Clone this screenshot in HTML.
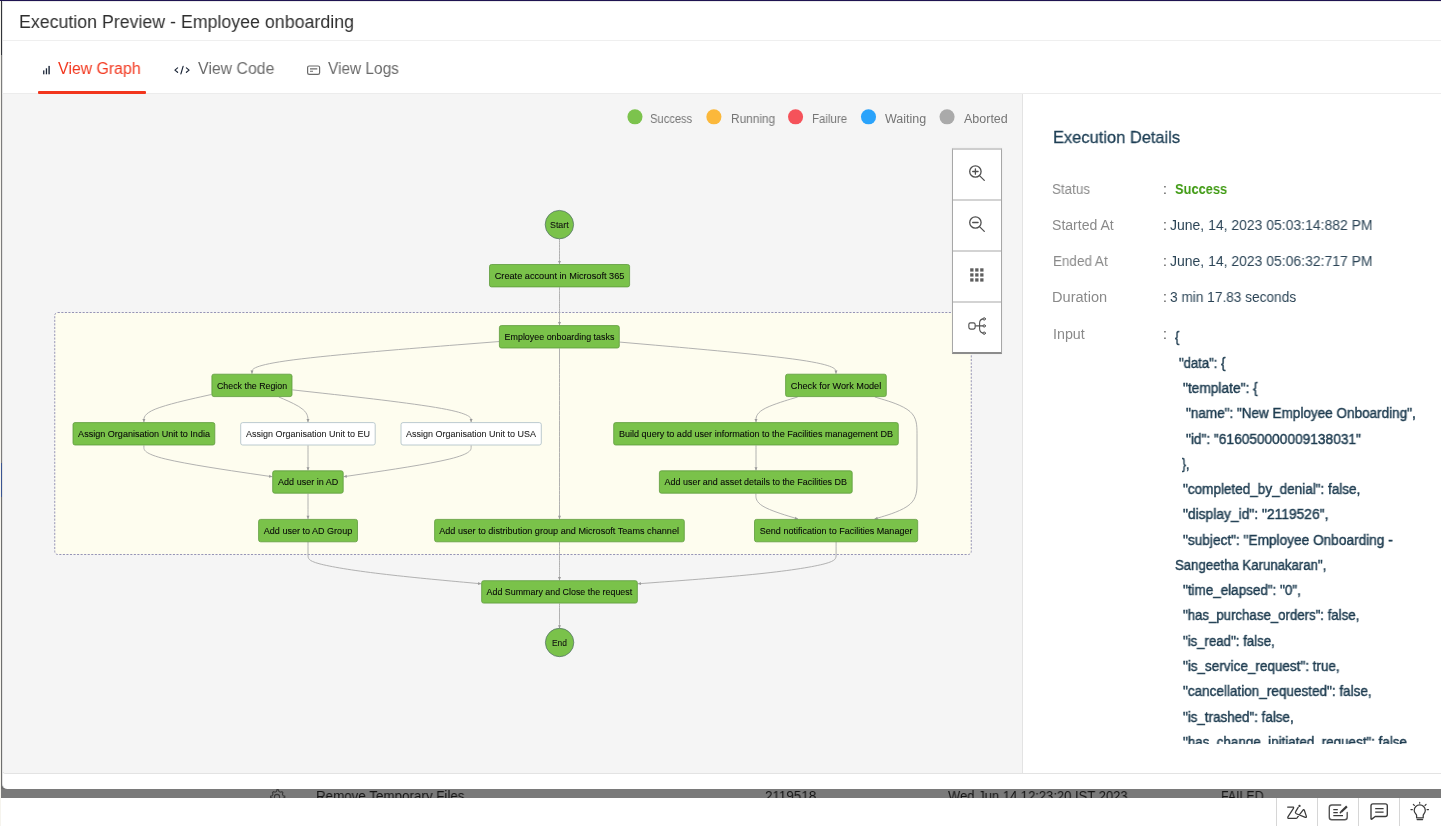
<!DOCTYPE html>
<html><head><meta charset="utf-8"><title>Execution Preview - Employee onboarding</title>
<style>
*{box-sizing:border-box}
html,body{margin:0;padding:0}
body{width:1441px;height:826px;position:relative;overflow:hidden;background:#fff;font-family:"Liberation Sans",sans-serif}
.abs{position:absolute}
.tx{position:absolute;white-space:pre;transform-origin:0 0;display:inline-block;will-change:transform}
.gsvg{position:absolute;left:0;top:0;will-change:transform}
.gsvg text{font-family:"Liberation Sans",sans-serif}
</style></head><body>

<div class="abs" style="left:0;top:0;width:1px;height:826px;background:#f6f4ee"></div>
<div class="abs" style="left:0;top:0;width:1441px;height:1px;background:#1f1452"></div>
<div class="abs" style="left:1px;top:1px;width:1440px;height:788px;background:#6e6e6e"></div>
<div class="abs" style="left:1px;top:1px;width:1px;height:54px;background:#31343a"></div>
<div class="abs" style="left:1px;top:55px;width:1px;height:408px;background:#7c7c7c"></div>
<div class="abs" style="left:1px;top:463px;width:1px;height:34px;background:#3a5592"></div>
<div class="abs" style="left:1px;top:497px;width:1px;height:292px;background:#6e6e6e"></div>
<div class="abs" style="left:2px;top:1px;width:1439px;height:788px;background:#fff;border-radius:0 0 0 5px;border-left:1px solid #e4e4e4;border-top:1px solid #ebebeb"></div>
<div class="abs" style="left:3px;top:40px;width:1438px;height:1px;background:#efefef"></div>
<div class="abs" style="left:2px;top:93px;width:1439px;height:681px;background:#fff;border:1px solid #e3e3e3;border-right:none;border-top-color:#ececec;border-radius:0 0 0 4px;overflow:hidden"><div class="abs" style="left:0;top:0;width:1019px;height:679px;background:#f5f5f5"></div><div class="abs" style="left:1019px;top:0;width:1px;height:679px;background:#e3e3e3"></div></div>
<div class="abs" style="left:38px;top:91px;width:108px;height:2.5px;background:#f2361d;border-radius:1px"></div>
<svg class="abs" style="left:600px;top:100px" width="400" height="30" viewBox="600 100 400 30">
<circle cx="634.95" cy="116.8" r="7.55" fill="#7cc34d"/>
<circle cx="713.90" cy="116.8" r="7.55" fill="#fbb83b"/>
<circle cx="795.55" cy="116.8" r="7.55" fill="#f5525a"/>
<circle cx="868.50" cy="116.8" r="7.55" fill="#2aa3fb"/>
<circle cx="947.05" cy="116.8" r="7.55" fill="#aaaaaa"/>
</svg>
<svg class="gsvg" width="1441" height="826" viewBox="0 0 1441 826">
<rect x="54.75" y="312.5" width="916.5" height="242" rx="3" fill="#fefdef" stroke="#9694b6" stroke-width="1" stroke-dasharray="2.1 1.45"/>
<path d="M559.50,238.90 L559.50,240.75 C559.50,242.60 559.50,246.30 559.50,250.50 C559.50,254.70 559.50,259.40 559.50,261.75 L559.50,264.10" fill="none" stroke="#a9a9a9" stroke-width="0.9"/>
<path d="M559.50,287.30 L559.50,290.42 C559.50,293.53 559.50,299.77 559.50,306.08 C559.50,312.40 559.50,318.80 559.50,322.00 L559.50,325.20" fill="none" stroke="#a9a9a9" stroke-width="0.9"/>
<path d="M499.00,341.55 L457.83,344.79 C416.67,348.03 334.33,354.52 293.16,359.89 C251.99,365.27 251.98,369.53 251.98,371.67 L251.97,373.80" fill="none" stroke="#a9a9a9" stroke-width="0.9"/>
<path d="M619.70,342.08 L655.75,345.23 C691.80,348.39 763.90,354.69 799.95,359.98 C835.99,365.27 835.98,369.53 835.98,371.67 L835.97,373.80" fill="none" stroke="#a9a9a9" stroke-width="0.9"/>
<path d="M559.50,348.40 L559.50,362.00 C559.50,375.60 559.50,402.80 559.50,431.23 C559.50,459.67 559.50,489.33 559.50,504.17 L559.50,519.00" fill="none" stroke="#a9a9a9" stroke-width="0.9"/>
<path d="M211.50,394.46 L200.23,396.98 C188.97,399.51 166.43,404.55 155.17,409.18 C143.90,413.80 143.90,418.00 143.90,420.10 L143.90,422.20" fill="none" stroke="#a9a9a9" stroke-width="0.9"/>
<path d="M278.82,397.00 L283.68,399.10 C288.54,401.20 298.27,405.40 303.13,409.60 C307.99,413.80 307.98,418.00 307.98,420.10 L307.97,422.20" fill="none" stroke="#a9a9a9" stroke-width="0.9"/>
<path d="M292.40,389.87 L322.18,393.16 C351.97,396.44 411.53,403.02 441.32,408.41 C471.11,413.80 471.12,418.00 471.12,420.10 L471.13,422.20" fill="none" stroke="#a9a9a9" stroke-width="0.9"/>
<path d="M143.90,445.40 L143.90,447.48 C143.90,449.57 143.90,453.73 165.30,458.96 C186.70,464.19 229.50,470.48 250.90,473.62 L272.30,476.76" fill="none" stroke="#a9a9a9" stroke-width="0.9"/>
<path d="M308.00,445.40 L308.00,447.50 C308.00,449.60 308.00,453.80 308.00,457.97 C308.00,462.13 308.00,466.27 308.00,468.33 L308.00,470.40" fill="none" stroke="#a9a9a9" stroke-width="0.9"/>
<path d="M471.13,445.40 L471.12,447.48 C471.12,449.57 471.11,453.73 449.85,458.96 C428.60,464.18 386.10,470.46 364.85,473.59 L343.60,476.73" fill="none" stroke="#a9a9a9" stroke-width="0.9"/>
<path d="M308.00,493.60 L308.00,495.67 C308.00,497.73 308.00,501.87 308.00,506.10 C308.00,510.33 308.00,514.67 308.00,516.83 L308.00,519.00" fill="none" stroke="#a9a9a9" stroke-width="0.9"/>
<path d="M797.63,397.00 L790.69,399.10 C783.75,401.20 769.88,405.40 762.94,409.60 C756.00,413.80 756.00,418.00 756.00,420.10 L756.00,422.20" fill="none" stroke="#a9a9a9" stroke-width="0.9"/>
<path d="M874.80,397.00 L881.83,399.10 C888.87,401.20 902.93,405.40 909.97,411.53 C917.00,417.67 917.00,425.73 917.00,433.78 C917.00,441.83 917.00,449.87 917.00,457.90 C917.00,465.93 917.00,473.97 917.00,482.02 C917.00,490.07 917.00,498.13 909.93,504.30 C902.85,510.47 888.71,514.73 881.63,516.87 L874.56,519.00" fill="none" stroke="#a9a9a9" stroke-width="0.9"/>
<path d="M756.00,445.40 L756.00,447.50 C756.00,449.60 756.00,453.80 756.00,457.97 C756.00,462.13 756.00,466.27 756.00,468.33 L756.00,470.40" fill="none" stroke="#a9a9a9" stroke-width="0.9"/>
<path d="M755.90,493.60 L755.91,495.70 C755.93,497.80 755.97,502.00 762.99,506.23 C770.01,510.47 784.01,514.73 791.02,516.87 L798.02,519.00" fill="none" stroke="#a9a9a9" stroke-width="0.9"/>
<path d="M308.00,541.60 L308.00,544.00 C308.00,546.40 308.00,551.20 308.00,554.77 C308.00,558.33 308.00,560.67 319.00,563.67 C330.00,566.67 352.00,570.33 380.88,573.80 C409.75,577.27 445.50,580.53 463.38,582.17 L481.25,583.80" fill="none" stroke="#a9a9a9" stroke-width="0.9"/>
<path d="M559.50,542.20 L559.50,545.17 C559.50,548.13 559.50,554.07 559.50,560.42 C559.50,566.77 559.50,573.53 559.50,576.92 L559.50,580.30" fill="none" stroke="#a9a9a9" stroke-width="0.9"/>
<path d="M836.10,541.60 L836.10,544.00 C836.10,546.40 836.10,551.20 836.10,554.77 C836.10,558.33 836.10,560.67 825.10,563.67 C814.10,566.67 792.10,570.33 759.04,573.80 C725.98,577.27 681.87,580.53 659.81,582.17 L637.75,583.80" fill="none" stroke="#a9a9a9" stroke-width="0.9"/>
<path d="M559.50,603.50 L559.50,605.58 C559.50,607.67 559.50,611.83 559.50,616.00 C559.50,620.17 559.50,624.33 559.50,626.42 L559.50,628.50" fill="none" stroke="#a9a9a9" stroke-width="0.9"/>
<path d="M559.50,264.10 L558.00,260.90 L561.00,260.90 Z" fill="#9a9a9a"/>
<path d="M559.50,325.20 L558.00,322.00 L561.00,322.00 Z" fill="#9a9a9a"/>
<path d="M251.97,373.80 L250.48,370.60 L253.48,370.60 Z" fill="#9a9a9a"/>
<path d="M835.97,373.80 L834.48,370.60 L837.48,370.60 Z" fill="#9a9a9a"/>
<path d="M559.50,519.00 L558.00,515.80 L561.00,515.80 Z" fill="#9a9a9a"/>
<path d="M143.90,422.20 L142.40,419.00 L145.40,419.00 Z" fill="#9a9a9a"/>
<path d="M307.97,422.20 L306.48,419.00 L309.48,419.00 Z" fill="#9a9a9a"/>
<path d="M471.13,422.20 L469.62,419.00 L472.62,419.00 Z" fill="#9a9a9a"/>
<path d="M272.30,476.76 L268.92,477.78 L269.35,474.81 Z" fill="#9a9a9a"/>
<path d="M308.00,470.40 L306.50,467.20 L309.50,467.20 Z" fill="#9a9a9a"/>
<path d="M343.60,476.73 L346.55,474.78 L346.98,477.75 Z" fill="#9a9a9a"/>
<path d="M308.00,519.00 L306.50,515.80 L309.50,515.80 Z" fill="#9a9a9a"/>
<path d="M756.00,422.20 L754.50,419.00 L757.50,419.00 Z" fill="#9a9a9a"/>
<path d="M874.56,519.00 L877.19,516.64 L878.06,519.51 Z" fill="#9a9a9a"/>
<path d="M756.00,470.40 L754.50,467.20 L757.50,467.20 Z" fill="#9a9a9a"/>
<path d="M798.02,519.00 L794.52,519.50 L795.40,516.63 Z" fill="#9a9a9a"/>
<path d="M481.25,583.80 L477.93,585.00 L478.20,582.02 Z" fill="#9a9a9a"/>
<path d="M559.50,580.30 L558.00,577.10 L561.00,577.10 Z" fill="#9a9a9a"/>
<path d="M637.75,583.80 L640.83,582.07 L641.05,585.06 Z" fill="#9a9a9a"/>
<path d="M559.50,628.50 L558.00,625.30 L561.00,625.30 Z" fill="#9a9a9a"/>
<circle cx="559.4" cy="224.6" r="14.2" fill="#7ac24a" stroke="#4d6a66" stroke-width="0.7"/>
<text x="550.0" y="227.90" font-size="9.6" textLength="18.7" lengthAdjust="spacingAndGlyphs" fill="#101010" stroke="#101010" stroke-width="0.08">Start</text>
<circle cx="559.6" cy="642.5" r="14.2" fill="#7ac24a" stroke="#4d6a66" stroke-width="0.7"/>
<text x="551.9" y="645.80" font-size="9.6" textLength="15.0" lengthAdjust="spacingAndGlyphs" fill="#101010" stroke="#101010" stroke-width="0.08">End</text>
<rect x="489.50" y="264.50" width="140.10" height="22.40" rx="2" fill="#7ac24a" stroke="#5e9a3c" stroke-width="0.8"/>
<text x="494.70" y="278.80" font-size="9.8" textLength="129.70" lengthAdjust="spacingAndGlyphs" fill="#080808" stroke="#080808" stroke-width="0.08">Create account in Microsoft 365</text>
<rect x="499.40" y="325.60" width="119.90" height="22.40" rx="2" fill="#7ac24a" stroke="#5e9a3c" stroke-width="0.8"/>
<text x="504.60" y="339.90" font-size="9.8" textLength="109.80" lengthAdjust="spacingAndGlyphs" fill="#080808" stroke="#080808" stroke-width="0.08">Employee onboarding tasks</text>
<rect x="211.90" y="374.20" width="80.10" height="22.40" rx="2" fill="#7ac24a" stroke="#5e9a3c" stroke-width="0.8"/>
<text x="217.00" y="388.50" font-size="9.8" textLength="70.10" lengthAdjust="spacingAndGlyphs" fill="#080808" stroke="#080808" stroke-width="0.08">Check the Region</text>
<rect x="785.60" y="374.20" width="100.70" height="22.40" rx="2" fill="#7ac24a" stroke="#5e9a3c" stroke-width="0.8"/>
<text x="790.80" y="388.50" font-size="9.8" textLength="90.40" lengthAdjust="spacingAndGlyphs" fill="#080808" stroke="#080808" stroke-width="0.08">Check for Work Model</text>
<rect x="73.00" y="422.60" width="141.80" height="22.40" rx="2" fill="#7ac24a" stroke="#5e9a3c" stroke-width="0.8"/>
<text x="78.10" y="436.90" font-size="9.8" textLength="131.90" lengthAdjust="spacingAndGlyphs" fill="#080808" stroke="#080808" stroke-width="0.08">Assign Organisation Unit to India</text>
<rect x="240.70" y="422.60" width="134.50" height="22.40" rx="2" fill="#ffffff" stroke="#a9bcc4" stroke-width="0.8"/>
<text x="246.10" y="436.90" font-size="9.8" textLength="123.90" lengthAdjust="spacingAndGlyphs" fill="#222222" stroke="#222222" stroke-width="0.08">Assign Organisation Unit to EU</text>
<rect x="401.00" y="422.60" width="140.30" height="22.40" rx="2" fill="#ffffff" stroke="#a9bcc4" stroke-width="0.8"/>
<text x="406.10" y="436.90" font-size="9.8" textLength="130.00" lengthAdjust="spacingAndGlyphs" fill="#222222" stroke="#222222" stroke-width="0.08">Assign Organisation Unit to USA</text>
<rect x="613.70" y="422.60" width="284.60" height="22.40" rx="2" fill="#7ac24a" stroke="#5e9a3c" stroke-width="0.8"/>
<text x="618.90" y="436.90" font-size="9.8" textLength="274.10" lengthAdjust="spacingAndGlyphs" fill="#080808" stroke="#080808" stroke-width="0.08">Build query to add user information to the Facilities management DB</text>
<rect x="272.70" y="470.80" width="70.50" height="22.40" rx="2" fill="#7ac24a" stroke="#5e9a3c" stroke-width="0.8"/>
<text x="278.10" y="485.10" font-size="9.8" textLength="60.10" lengthAdjust="spacingAndGlyphs" fill="#080808" stroke="#080808" stroke-width="0.08">Add user in AD</text>
<rect x="659.40" y="470.80" width="192.80" height="22.40" rx="2" fill="#7ac24a" stroke="#5e9a3c" stroke-width="0.8"/>
<text x="664.60" y="485.10" font-size="9.8" textLength="182.40" lengthAdjust="spacingAndGlyphs" fill="#080808" stroke="#080808" stroke-width="0.08">Add user and asset details to the Facilities DB</text>
<rect x="258.60" y="519.40" width="98.90" height="22.40" rx="2" fill="#7ac24a" stroke="#5e9a3c" stroke-width="0.8"/>
<text x="263.80" y="533.70" font-size="9.8" textLength="88.40" lengthAdjust="spacingAndGlyphs" fill="#080808" stroke="#080808" stroke-width="0.08">Add user to AD Group</text>
<rect x="434.60" y="519.40" width="249.70" height="22.40" rx="2" fill="#7ac24a" stroke="#5e9a3c" stroke-width="0.8"/>
<text x="439.20" y="533.70" font-size="9.8" textLength="239.80" lengthAdjust="spacingAndGlyphs" fill="#080808" stroke="#080808" stroke-width="0.08">Add user to distribution group and Microsoft Teams channel</text>
<rect x="754.50" y="519.40" width="163.20" height="22.40" rx="2" fill="#7ac24a" stroke="#5e9a3c" stroke-width="0.8"/>
<text x="759.80" y="533.70" font-size="9.8" textLength="152.70" lengthAdjust="spacingAndGlyphs" fill="#080808" stroke="#080808" stroke-width="0.08">Send notification to Facilities Manager</text>
<rect x="481.65" y="580.70" width="155.70" height="22.40" rx="2" fill="#7ac24a" stroke="#5e9a3c" stroke-width="0.8"/>
<text x="486.60" y="595.00" font-size="9.8" textLength="145.60" lengthAdjust="spacingAndGlyphs" fill="#080808" stroke="#080808" stroke-width="0.08">Add Summary and Close the request</text>
</svg>
<div class="abs" style="left:952px;top:148px;width:50px;height:206px;background:#fff;border:1px solid #a7a7a7;border-top:2px solid #cecece;border-bottom:2px solid #8c8c8c;box-shadow:0 0 2px rgba(0,0,0,0.06)"></div>
<div class="abs" style="left:953px;top:199px;width:48px;height:2px;background:#d3d3d3"></div>
<div class="abs" style="left:953px;top:250px;width:48px;height:2px;background:#d3d3d3"></div>
<div class="abs" style="left:953px;top:301px;width:48px;height:2px;background:#d3d3d3"></div>
<svg class="abs" style="left:952px;top:148px" width="50" height="205" viewBox="0 0 50 205">
<g fill="none" stroke="#505050" stroke-width="1.3" stroke-linecap="round">
<circle cx="23.4" cy="23.5" r="5.7"/><path d="M27.5,27.6 L32.3,32.4"/><path d="M20.7,23.5 H26.1 M23.4,20.8 V26.2"/>
<circle cx="23.4" cy="74.5" r="5.7"/><path d="M27.5,78.6 L32.3,83.4"/><path d="M20.7,74.5 H26.1"/>
<rect x="16.85" y="174.85" width="6.3" height="6.2" rx="1.7" stroke-width="1.15"/>
<path d="M23.7,177.9 H31" stroke-width="1.1"/>
<path d="M31,170.9 C29,171.3 27.6,172.3 27.6,175 V180.8 C27.6,183.5 29,184.6 31,185.1" stroke-width="1.1"/>
<circle cx="32.2" cy="170.9" r="1.2" stroke-width="1"/><circle cx="32.2" cy="177.9" r="1.2" stroke-width="1"/><circle cx="32.2" cy="185.2" r="1.2" stroke-width="1"/>
</g>
<g fill="#5e5e5e">
<rect x="18.2" y="120.3" width="3.3" height="3.3"/>
<rect x="23.2" y="120.3" width="3.3" height="3.3"/>
<rect x="28.2" y="120.3" width="3.3" height="3.3"/>
<rect x="18.2" y="125.3" width="3.3" height="3.3"/>
<rect x="23.2" y="125.3" width="3.3" height="3.3"/>
<rect x="28.2" y="125.3" width="3.3" height="3.3"/>
<rect x="18.2" y="130.3" width="3.3" height="3.3"/>
<rect x="23.2" y="130.3" width="3.3" height="3.3"/>
<rect x="28.2" y="130.3" width="3.3" height="3.3"/>
</g></svg>
<svg class="abs" style="left:40px;top:60px" width="20" height="20" viewBox="0 0 20 20"><g fill="#1c2638">
<rect x="3.1" y="10.4" width="1.3" height="3.9"/><rect x="5.8" y="8.3" width="1.3" height="6"/><rect x="8.4" y="5.9" width="1.4" height="8.4"/></g></svg>
<svg class="abs" style="left:172px;top:60px" width="20" height="20" viewBox="0 0 20 20"><g fill="none" stroke="#1c2638" stroke-width="1.2" stroke-linecap="round" stroke-linejoin="round">
<path d="M5.6,7.9 L2.9,10.1 L5.6,12.3"/><path d="M14.4,7.9 L17.1,10.1 L14.4,12.3"/><path d="M11.1,6.3 L8.9,13.8"/></g></svg>
<svg class="abs" style="left:305px;top:60px" width="20" height="20" viewBox="0 0 20 20"><g fill="none" stroke="#6a6a6a" stroke-width="1.2">
<rect x="2.6" y="6" width="12" height="8.4" rx="1.6"/><path d="M5,8.9 H12.3 M5,11.2 H8" stroke-width="1.1"/></g></svg>
<span id="title" class="tx" style="left:18.77px;top:12.91px;font-size:18px;line-height:18px;color:#2e2e2e;font-weight:400;transform:scaleX(0.9873)">Execution Preview - Employee onboarding</span>
<span id="tab1" class="tx" style="left:58.22px;top:61.20px;font-size:16px;line-height:16px;color:#f2361d;font-weight:400;transform:scaleX(0.9917)">View Graph</span>
<span id="tab2" class="tx" style="left:197.73px;top:61.20px;font-size:16px;line-height:16px;color:#6a6a6a;font-weight:400;transform:scaleX(0.9906)">View Code</span>
<span id="tab3" class="tx" style="left:327.73px;top:61.20px;font-size:16px;line-height:16px;color:#6a6a6a;font-weight:400;transform:scaleX(0.9635)">View Logs</span>
<span id="lg1" class="tx" style="left:650.30px;top:112.60px;font-size:12px;line-height:12px;color:#757575;font-weight:400;transform:scaleX(0.9306)">Success</span>
<span id="lg2" class="tx" style="left:730.77px;top:112.60px;font-size:12px;line-height:12px;color:#757575;font-weight:400;transform:scaleX(0.9873)">Running</span>
<span id="lg3" class="tx" style="left:812.16px;top:112.60px;font-size:12px;line-height:12px;color:#757575;font-weight:400;transform:scaleX(0.9559)">Failure</span>
<span id="lg4" class="tx" style="left:885.20px;top:112.60px;font-size:12px;line-height:12px;color:#757575;font-weight:400;transform:scaleX(1.0425)">Waiting</span>
<span id="lg5" class="tx" style="left:964.19px;top:112.60px;font-size:12px;line-height:12px;color:#757575;font-weight:400;transform:scaleX(1.0408)">Aborted</span>
<span id="ph" class="tx" style="left:1053.12px;top:128.80px;font-size:17px;line-height:17px;color:#1e3f55;font-weight:400;transform:scaleX(0.9680);-webkit-text-stroke:0.3px #1e3f55">Execution Details</span>
<span id="l1" class="tx" style="left:1052.39px;top:181.60px;font-size:14px;line-height:14px;color:#8a8a8a;font-weight:400;transform:scaleX(0.9556)">Status</span>
<span id="l2" class="tx" style="left:1052.49px;top:217.51px;font-size:14px;line-height:14px;color:#8a8a8a;font-weight:400;transform:scaleX(1.0047)">Started At</span>
<span id="l3" class="tx" style="left:1052.63px;top:254.01px;font-size:14px;line-height:14px;color:#8a8a8a;font-weight:400;transform:scaleX(0.9608)">Ended At</span>
<span id="l4" class="tx" style="left:1052.25px;top:289.71px;font-size:14px;line-height:14px;color:#8a8a8a;font-weight:400;transform:scaleX(1.0411)">Duration</span>
<span id="l5" class="tx" style="left:1052.90px;top:327.01px;font-size:14px;line-height:14px;color:#8a8a8a;font-weight:400;transform:scaleX(1.0194)">Input</span>
<span id="c0" class="tx" style="left:1163.00px;top:181.60px;font-size:14px;line-height:14px;color:#555;font-weight:400;transform:scaleX(1.0000)">:</span>
<span id="c1" class="tx" style="left:1163.00px;top:217.51px;font-size:14px;line-height:14px;color:#555;font-weight:400;transform:scaleX(1.0000)">:</span>
<span id="c2" class="tx" style="left:1163.00px;top:254.01px;font-size:14px;line-height:14px;color:#555;font-weight:400;transform:scaleX(1.0000)">:</span>
<span id="c3" class="tx" style="left:1163.00px;top:289.71px;font-size:14px;line-height:14px;color:#555;font-weight:400;transform:scaleX(1.0000)">:</span>
<span id="c4" class="tx" style="left:1163.00px;top:327.01px;font-size:14px;line-height:14px;color:#555;font-weight:400;transform:scaleX(1.0000)">:</span>
<span id="v1" class="tx" style="left:1174.58px;top:180.61px;font-size:15px;line-height:15px;color:#3f9a12;font-weight:700;transform:scaleX(0.8566)">Success</span>
<span id="v2" class="tx" style="left:1170.43px;top:217.51px;font-size:14px;line-height:14px;color:#2b4456;font-weight:400;transform:scaleX(0.9969)">June, 14, 2023 05:03:14:882 PM</span>
<span id="v3" class="tx" style="left:1170.43px;top:254.01px;font-size:14px;line-height:14px;color:#2b4456;font-weight:400;transform:scaleX(0.9969)">June, 14, 2023 05:06:32:717 PM</span>
<span id="v4" class="tx" style="left:1169.96px;top:289.71px;font-size:14px;line-height:14px;color:#2b4456;font-weight:400;transform:scaleX(0.9763)">3 min 17.83 seconds</span>
<span id="j0" class="tx" style="left:1175.27px;top:330.01px;font-size:14px;line-height:14px;color:#1e3c50;font-weight:400;transform:scaleX(0.9021);-webkit-text-stroke:0.45px #1e3c50">{</span>
<span id="j1" class="tx" style="left:1178.95px;top:356.01px;font-size:14px;line-height:14px;color:#1e3c50;font-weight:400;transform:scaleX(0.9337);-webkit-text-stroke:0.45px #1e3c50">"data": {</span>
<span id="j2" class="tx" style="left:1182.56px;top:381.01px;font-size:14px;line-height:14px;color:#1e3c50;font-weight:400;transform:scaleX(0.9800);-webkit-text-stroke:0.45px #1e3c50">"template": {</span>
<span id="j3" class="tx" style="left:1186.16px;top:406.01px;font-size:14px;line-height:14px;color:#1e3c50;font-weight:400;transform:scaleX(0.9660);-webkit-text-stroke:0.45px #1e3c50">"name": "New Employee Onboarding",</span>
<span id="j4" class="tx" style="left:1186.16px;top:432.01px;font-size:14px;line-height:14px;color:#1e3c50;font-weight:400;transform:scaleX(0.9784);-webkit-text-stroke:0.45px #1e3c50">"id": "616050000009138031"</span>
<span id="j5" class="tx" style="left:1182.48px;top:457.01px;font-size:14px;line-height:14px;color:#1e3c50;font-weight:400;transform:scaleX(0.8509);-webkit-text-stroke:0.45px #1e3c50">},</span>
<span id="j6" class="tx" style="left:1182.56px;top:482.01px;font-size:14px;line-height:14px;color:#1e3c50;font-weight:400;transform:scaleX(0.9666);-webkit-text-stroke:0.45px #1e3c50">"completed_by_denial": false,</span>
<span id="j7" class="tx" style="left:1182.55px;top:507.01px;font-size:14px;line-height:14px;color:#1e3c50;font-weight:400;transform:scaleX(0.9873);-webkit-text-stroke:0.45px #1e3c50">"display_id": "2119526",</span>
<span id="j8" class="tx" style="left:1182.56px;top:533.01px;font-size:14px;line-height:14px;color:#1e3c50;font-weight:400;transform:scaleX(0.9760);-webkit-text-stroke:0.45px #1e3c50">"subject": "Employee Onboarding -</span>
<span id="j9" class="tx" style="left:1175.03px;top:558.01px;font-size:14px;line-height:14px;color:#1e3c50;font-weight:400;transform:scaleX(0.9417);-webkit-text-stroke:0.45px #1e3c50">Sangeetha Karunakaran",</span>
<span id="j10" class="tx" style="left:1182.55px;top:583.01px;font-size:14px;line-height:14px;color:#1e3c50;font-weight:400;transform:scaleX(0.9610);-webkit-text-stroke:0.45px #1e3c50">"time_elapsed": "0",</span>
<span id="j11" class="tx" style="left:1182.56px;top:608.01px;font-size:14px;line-height:14px;color:#1e3c50;font-weight:400;transform:scaleX(0.9445);-webkit-text-stroke:0.45px #1e3c50">"has_purchase_orders": false,</span>
<span id="j12" class="tx" style="left:1182.56px;top:634.01px;font-size:14px;line-height:14px;color:#1e3c50;font-weight:400;transform:scaleX(0.9442);-webkit-text-stroke:0.45px #1e3c50">"is_read": false,</span>
<span id="j13" class="tx" style="left:1182.56px;top:659.01px;font-size:14px;line-height:14px;color:#1e3c50;font-weight:400;transform:scaleX(0.9646);-webkit-text-stroke:0.45px #1e3c50">"is_service_request": true,</span>
<span id="j14" class="tx" style="left:1182.55px;top:684.01px;font-size:14px;line-height:14px;color:#1e3c50;font-weight:400;transform:scaleX(0.9666);-webkit-text-stroke:0.45px #1e3c50">"cancellation_requested": false,</span>
<span id="j15" class="tx" style="left:1182.56px;top:710.01px;font-size:14px;line-height:14px;color:#1e3c50;font-weight:400;transform:scaleX(0.9557);-webkit-text-stroke:0.45px #1e3c50">"is_trashed": false,</span>
<span id="j16" class="tx" style="left:1182.56px;top:735.01px;font-size:14px;line-height:14px;color:#1e3c50;font-weight:400;transform:scaleX(0.9563);-webkit-text-stroke:0.45px #1e3c50">"has_change_initiated_request": false</span>
<div class="abs" style="left:1023px;top:744px;width:418px;height:29px;background:#fff"></div>
<div class="abs" style="left:1px;top:789px;width:1440px;height:9px;overflow:hidden;background:#7a7a7a">
<span id="b1" class="tx" data-b="1" style="left:314.84px;top:0.01px;font-size:14px;line-height:14px;color:#151515;font-weight:400;transform:scaleX(0.9560)">Remove Temporary Files</span>
<span id="b2" class="tx" data-b="1" style="left:764.00px;top:0.01px;font-size:14px;line-height:14px;color:#151515;font-weight:400;transform:scaleX(0.9576)">2119518</span>
<span id="b3" class="tx" data-b="1" style="left:947.00px;top:0.01px;font-size:14px;line-height:14px;color:#151515;font-weight:400;transform:scaleX(0.9290)">Wed Jun 14 12:23:20 IST 2023</span>
<span id="b4" class="tx" data-b="1" style="left:1219.82px;top:0.01px;font-size:14px;line-height:14px;color:#151515;font-weight:400;transform:scaleX(0.8826)">FAILED</span>
<svg class="abs" style="left:267px;top:-1px" width="18" height="18" viewBox="0 0 18 18"><g fill="none" stroke="#3a3a3a" stroke-width="1.1">
<path d="M9,1.6 l1.4,0.2 0.5,1.6 1.4,0.8 1.6,-0.5 1,1 -0.5,1.6 0.8,1.4 1.6,0.5 v1.4 l-1.6,0.5 -0.8,1.4 0.5,1.6 -1,1 -1.6,-0.5 -1.4,0.8 -0.5,1.6 h-1.4 l-0.5,-1.6 -1.4,-0.8 -1.6,0.5 -1,-1 0.5,-1.6 -0.8,-1.4 -1.6,-0.5 v-1.4 l1.6,-0.5 0.8,-1.4 -0.5,-1.6 1,-1 1.6,0.5 1.4,-0.8 0.5,-1.6 z"/>
<circle cx="9" cy="9" r="2.6"/></g></svg>
</div>
<div class="abs" style="left:1276.0px;top:798px;width:1px;height:28px;background:#d6d6d6"></div>
<div class="abs" style="left:1317.0px;top:798px;width:1px;height:28px;background:#d6d6d6"></div>
<div class="abs" style="left:1358.0px;top:798px;width:1px;height:28px;background:#d6d6d6"></div>
<div class="abs" style="left:1399.0px;top:798px;width:1px;height:28px;background:#d6d6d6"></div>
<svg class="abs" style="left:1277px;top:798px" width="164" height="28" viewBox="0 0 164 28">
<g fill="none" stroke="#3a3a3a" stroke-width="1.25" stroke-linecap="round" stroke-linejoin="round">
<path d="M10.65,9.12 L16.19,9.12 Q16.98,9.38 16.45,10.44 L10.91,18.88 Q10.38,20.46 11.97,20.46 L18.82,20.46 Q19.88,20.46 20.41,19.41 L26.21,11.76 Q26.73,11.23 27.26,12.02 L29.37,18.35 Q29.63,19.67 28.32,19.41 L19.35,15.71 Q17.77,14.92 18.82,13.34 L21.2,9.38"/>
<circle cx="22.51" cy="7.91" r="1.15" fill="#3a3a3a" stroke="none"/>
<path d="M63.7,7 H54.8 Q52.3,7 52.3,9.5 V19.3 Q52.3,21.8 54.8,21.8 H67.7 Q70.2,21.8 70.2,19.3 V14.4" stroke="#555" stroke-width="1.4"/>
<path d="M56.3,11.5 H60.8 M56.3,14.5 H60.8 M56.3,17.6 H66" stroke-linecap="butt"/>
<path d="M64.3,13.7 L69.9,8.4" stroke-width="2.2" stroke-linecap="butt"/>
<path d="M63.4,14.6 L64.1,13.9" stroke-width="1.6"/>
<path d="M98.2,18.5 H108.3 Q110.3,18.5 110.3,16.5 V7.8 Q110.3,5.8 108.3,5.8 H96 Q94,5.8 94,7.8 V20.9 Q94.2,21.6 94.8,21.1 Z" stroke-width="1.35"/>
<path d="M98.2,10.5 H106.6 M98.2,14.2 H106.6" stroke-linecap="butt"/>
<path d="M139.6,19.8 V17.4 C139.6,16.2 137.2,15 137.2,12.4 A5.55,5.55 0 1 1 148.3,12.4 C148.3,15 146.2,16.2 146.2,17.4 V19.8 Z"/>
<path d="M140.1,21.6 H145.6"/>
<path d="M142.7,4.3 V5.2 M136.3,6.4 L137.4,7.5 M149.1,6.4 L148,7.5 M133.9,11.6 H135.4 M150,11.6 H151.5" stroke-width="1.1"/>
</g></svg>
</body></html>
